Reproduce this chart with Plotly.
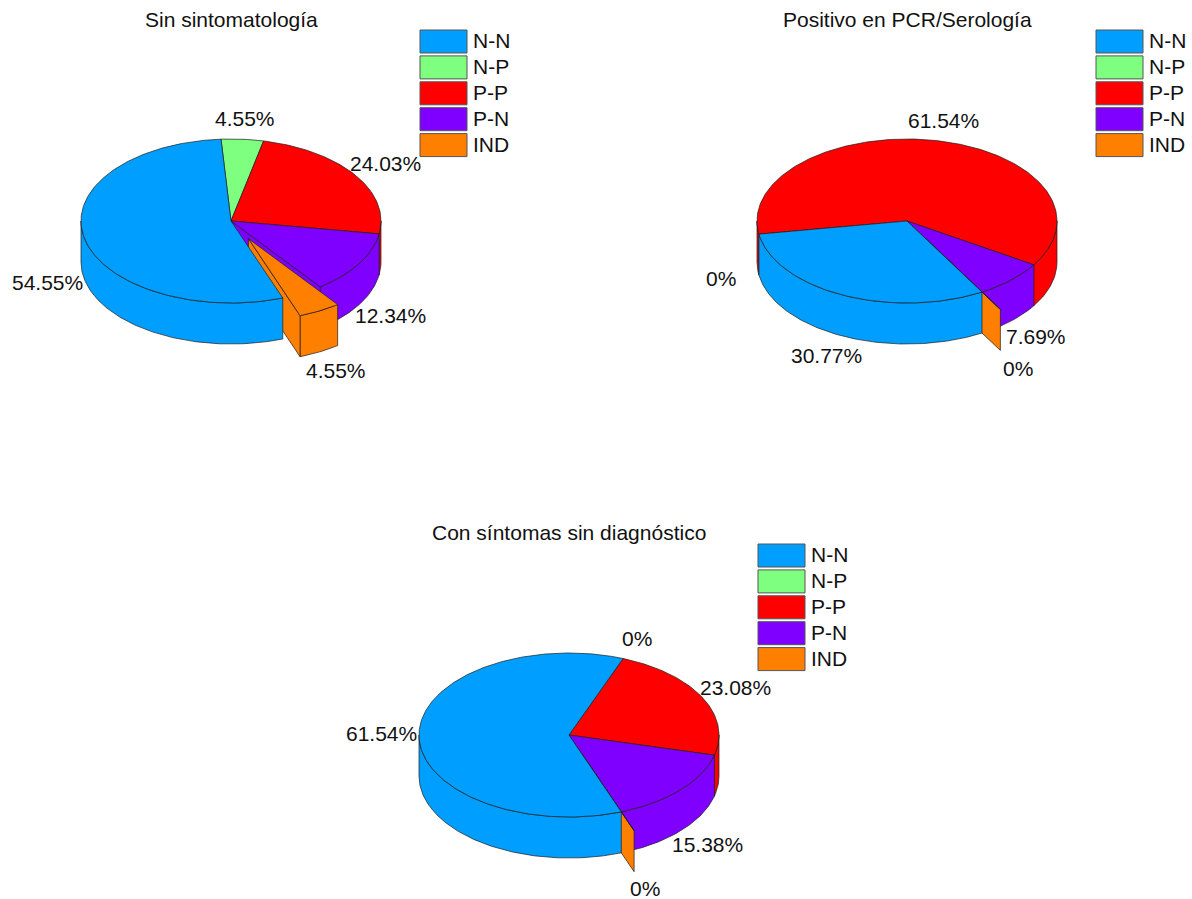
import math
import plotly.graph_objects as go

# Response categories shared by the three pies
categories = ["N-N", "N-P", "P-P", "P-N", "IND"]
colors = ["#009FFF", "#7FFF7F", "#FF0000", "#7F00FF", "#FF7F00"]

# Percentages per group
sin_sintomas = [54.55, 4.55, 24.03, 12.34, 4.55]
positivo = [30.77, 0, 61.54, 7.69, 0]
con_sintomas = [61.54, 0, 23.08, 15.38, 0]

titles = ["Sin sintomatología", "Positivo en PCR/Serología", "Con síntomas sin diagnóstico"]
start_angles = [159.8, 150.0, 159.6]  # degrees clockwise from 12 o'clock

# Only the IND wedge is pulled out of the pie
EXPLODE = {"IND": 0.245}

RX, RY, DEPTH = 150, 82, 41
EDGE = "#1c1c1c"
FONT = "Liberation Sans"
TEXT_SIZE = 21

pies = [
    dict(values=sin_sintomas, start=start_angles[0], title=titles[0],
         center=(231, 221), title_xy=(231, 19), legend_xy=(420, 30),
         labels=[(47, 282), (245, 118), (385, 163), (390, 315), (336, 370)]),
    dict(values=positivo, start=start_angles[1], title=titles[1],
         center=(907, 221), title_xy=(907, 19), legend_xy=(1096, 30),
         labels=[(826, 355), (721, 278), (943, 120), (1036, 336), (1018, 368)]),
    dict(values=con_sintomas, start=start_angles[2], title=titles[2],
         center=(569, 735), title_xy=(569, 532), legend_xy=(758, 544),
         labels=[(381, 733), (637, 638), (735, 687), (707, 844), (645, 888)]),
]

fig = go.Figure()


def pt(cx, cy, deg, r=1.0):
    a = math.radians(deg)
    return cx + RX * r * math.sin(a), cy - RY * r * math.cos(a)


def arc(cx, cy, a0, a1, steps_per_deg=1):
    n = max(2, int(abs(a1 - a0) * steps_per_deg) + 1)
    return [pt(cx, cy, a0 + (a1 - a0) * i / (n - 1)) for i in range(n)]


def poly(points, color):
    xs = [p[0] for p in points] + [points[0][0]]
    ys = [p[1] for p in points] + [points[0][1]]
    fig.add_trace(go.Scatter(x=xs, y=ys, mode="lines", fill="toself", fillcolor=color,
                             line=dict(color=EDGE, width=0.7), hoverinfo="skip",
                             showlegend=False))


def front_spans(a0, a1):
    # Parts of a wedge whose rim faces the viewer (90..270 degrees, modulo a turn)
    spans = []
    for lo, hi in ((90, 270), (450, 630)):
        s, e = max(a0, lo), min(a1, hi)
        if e > s:
            spans.append((s, e))
    return spans


def draw_wedge(cx, cy, a0, a1, color, explode, show_end_face):
    if a1 <= a0 and not explode:
        return
    mid = (a0 + a1) / 2
    ox, oy = pt(0, 0, mid, explode)
    cx, cy = cx + ox, cy + oy
    # Outer rim
    for s, e in front_spans(a0, a1):
        rim = arc(cx, cy, s, e)
        poly(rim + [(x, y + DEPTH) for x, y in reversed(rim)], color)
    # Cut face, seen where a pulled-out wedge leaves a gap
    if show_end_face:
        ex, ey = pt(cx, cy, a1)
        poly([(cx, cy), (ex, ey), (ex, ey + DEPTH), (cx, cy + DEPTH)], color)
    # Top surface
    poly([(cx, cy)] + arc(cx, cy, a0, a1), color)


for pie in pies:
    cx, cy = pie["center"]
    bounds = [pie["start"]]
    for v in pie["values"]:
        bounds.append(bounds[-1] + v * 3.6)
    # Painted back to front, N-N last so it sits over the pulled-out wedge
    for i in [1, 2, 3, 4, 0]:
        explode = EXPLODE.get(categories[i], 0)
        next_explode = EXPLODE.get(categories[(i + 1) % len(categories)], 0)
        draw_wedge(cx, cy, bounds[i], bounds[i + 1], colors[i], explode,
                   bool(explode or next_explode))

shapes = []
annotations = []
for pie in pies:
    annotations.append(dict(x=pie["title_xy"][0], y=pie["title_xy"][1], text=pie["title"],
                            xref="x", yref="y", showarrow=False,
                            font=dict(family=FONT, size=TEXT_SIZE, color="#111")))
    for v, (lx, ly) in zip(pie["values"], pie["labels"]):
        annotations.append(dict(x=lx, y=ly, text=f"{v:g}%", xref="x", yref="y", showarrow=False,
                                font=dict(family=FONT, size=TEXT_SIZE, color="#111")))
    lx, ly = pie["legend_xy"]
    for i, name in enumerate(categories):
        top = ly + i * 25.9
        shapes.append(dict(type="rect", xref="x", yref="y", x0=lx, x1=lx + 47, y0=top, y1=top + 23,
                           fillcolor=colors[i], line=dict(color="#555", width=1)))
        annotations.append(dict(x=lx + 51, y=top + 10.5, text=name, xref="x", yref="y",
                                xanchor="left", showarrow=False,
                                font=dict(family=FONT, size=TEXT_SIZE, color="#111")))

fig.update_layout(
    width=1192, height=899, autosize=False,
    margin=dict(l=0, r=0, t=0, b=0),
    paper_bgcolor="white", plot_bgcolor="white",
    shapes=shapes, annotations=annotations,
    xaxis=dict(range=[0, 1192], visible=False, fixedrange=True),
    yaxis=dict(range=[899, 0], visible=False, fixedrange=True),
)

fig.write_html("out.html", config=dict(displayModeBar=False))
